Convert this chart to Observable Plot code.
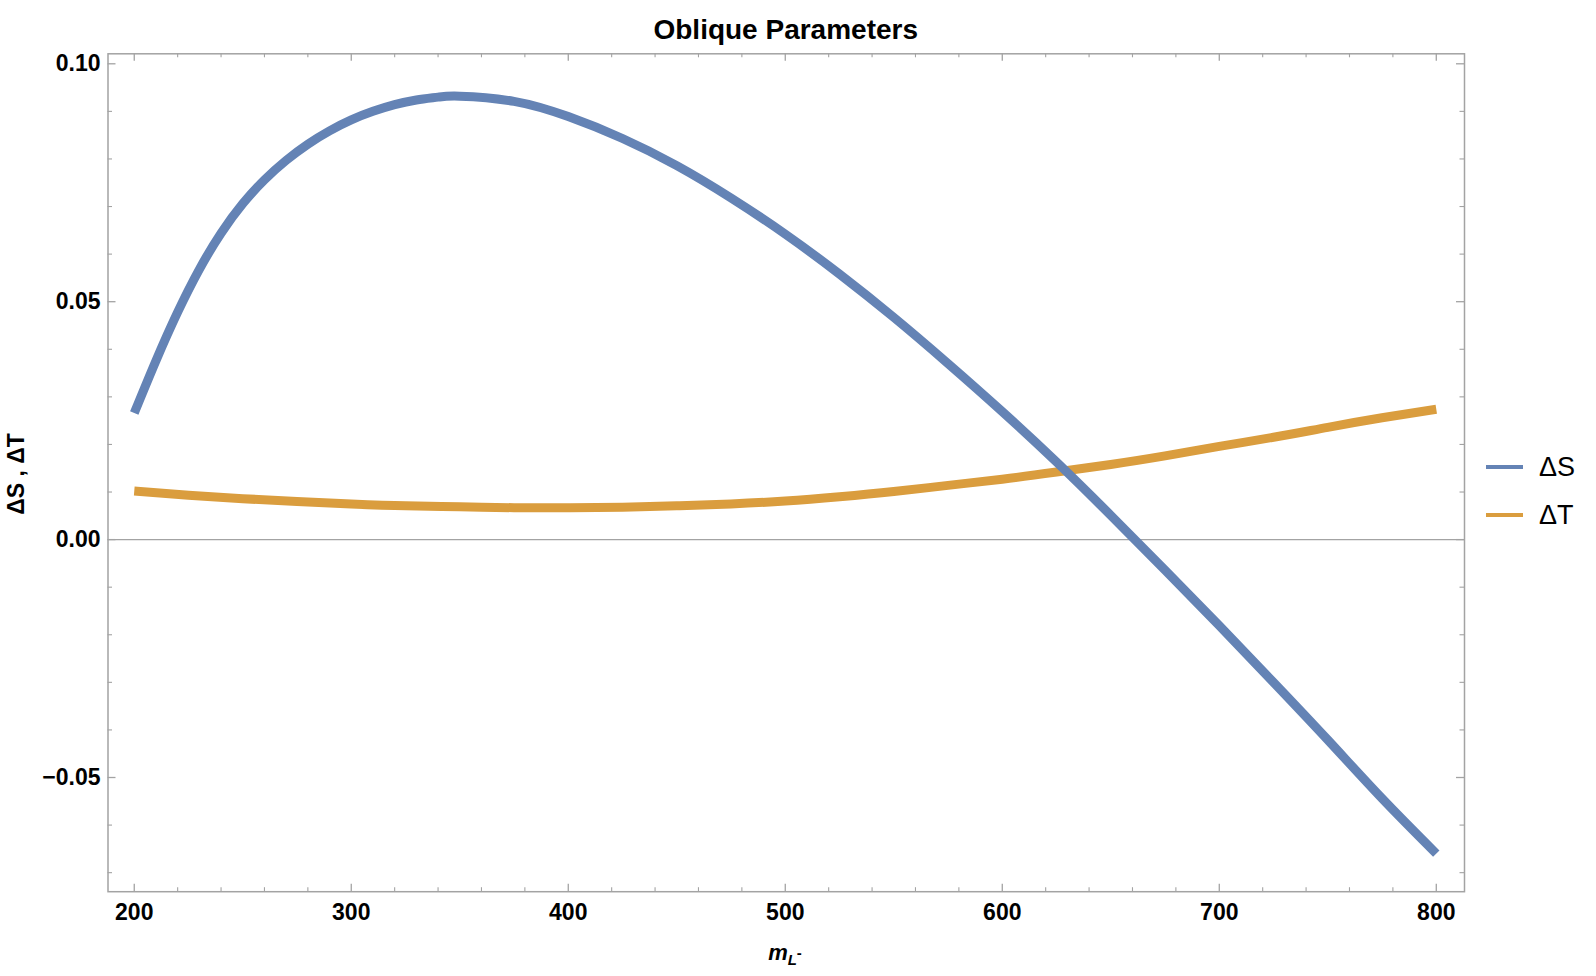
<!DOCTYPE html>
<html>
<head>
<meta charset="utf-8">
<script src="https://cdn.jsdelivr.net/npm/d3@7"></script>
<script src="https://cdn.jsdelivr.net/npm/@observablehq/plot@0.6"></script>
<style>
  body { margin: 0; background: #fff; font-family: "Liberation Sans", Arial, Helvetica, sans-serif; }
  #wrap { position: relative; width: 1596px; height: 976px; overflow: hidden; }
  #title { position: absolute; left: 785.75px; top: 16px; transform: translateX(-50%); font-size: 28px; line-height: 28px; font-weight: bold; white-space: nowrap; color: #000; }
  #ylab { position: absolute; left: 16px; top: 474px; transform: translate(-50%, -50%) rotate(-90deg); font-size: 23px; line-height: 23px; font-weight: bold; white-space: nowrap; color: #000; }
  #xlab { position: absolute; left: 785px; top: 942px; transform: translateX(-50%); font-size: 22px; line-height: 22px; font-weight: bold; font-style: italic; white-space: nowrap; color: #000; }
  #xlab .sub { font-size: 15px; line-height: 0; position: relative; top: 5px; }
  #xlab .sup { font-size: 15px; line-height: 0; position: relative; top: -7px; font-style: normal; }
  .leg { position: absolute; left: 1486px; height: 28px; display: flex; align-items: center; font-size: 27px; line-height: 28px; white-space: nowrap; color: #000; }
  .leg .sw { width: 37px; height: 4px; margin-right: 16px; }
</style>
</head>
<body>
<div id="wrap">
  <div id="chart"></div>
  <div id="title">Oblique Parameters</div>
  <div id="ylab">ΔS , ΔT</div>
  <div id="xlab">m<span class="sub">L<span class="sup">-</span></span></div>
  <div id="legend"></div>
</div>
<script>
// ---- data ----
const massS = [200, 210, 220, 230, 240, 250, 260, 270, 280, 290, 300, 310, 320, 330, 340, 350, 375, 400, 425, 450, 475, 500, 525, 550, 575, 600, 625, 650, 675, 700, 725, 750, 775, 800];
const deltaS = [0.0266, 0.0376, 0.0478, 0.0568, 0.0644, 0.0706, 0.0756, 0.0797, 0.0831, 0.0859, 0.0882, 0.0900, 0.0914, 0.0924, 0.0930, 0.0932, 0.0921, 0.0889, 0.0843, 0.0786, 0.0718, 0.0642, 0.0558, 0.0467, 0.0370, 0.0269, 0.0163, 0.0051, -0.0064, -0.0181, -0.0300, -0.0421, -0.0544, -0.0660];
const massT = [200, 225, 250, 275, 300, 325, 350, 375, 400, 425, 450, 475, 500, 525, 550, 575, 600, 625, 650, 675, 700, 725, 750, 775, 800];
const deltaT = [0.0102, 0.0093, 0.0086, 0.0080, 0.0075, 0.0071, 0.0069, 0.0067, 0.0067, 0.0068, 0.0071, 0.0075, 0.0081, 0.0090, 0.0101, 0.0114, 0.0127, 0.0142, 0.0158, 0.0176, 0.0196, 0.0215, 0.0236, 0.0256, 0.0274];
const seriesNames = ["ΔS", "ΔT"];
const seriesColors = ["#6483b5", "#da9d3e"];
const xTickValues = [200, 300, 400, 500, 600, 700, 800];
const yTickValues = [-0.05, 0.00, 0.05, 0.10];
const xMinorValues = d3.range(200, 801, 20).filter(v => v % 100 !== 0);
const yMinorValues = d3.range(-7, 11).map(v => v / 100).filter(v => Math.round(v * 100) % 5 !== 0);

// ---- layout ----
const W = 1596, H = 976;
const mL = 107.5, mR = 132, mT = 53.3, mB = 84.8;
const plotW = W - mL - mR, plotH = H - mT - mB;
const frameColor = "#a3a3a3";

const sData = massS.map((m, i) => ({m, v: deltaS[i], s: seriesNames[0]}));
const tData = massT.map((m, i) => ({m, v: deltaT[i], s: seriesNames[1]}));

const chart = Plot.plot({
  width: W,
  height: H,
  marginLeft: mL,
  marginRight: mR,
  marginTop: mT,
  marginBottom: mB,
  style: {fontFamily: "'Liberation Sans', Arial, Helvetica, sans-serif", fontWeight: "bold", color: "#000", background: "#fff", overflow: "visible"},
  x: {domain: [187.9, 813.0]},
  y: {domain: [-0.0740, 0.1021]},
  color: {domain: seriesNames, range: seriesColors},
  marks: [
    Plot.ruleY([0], {stroke: frameColor, strokeWidth: 1.3}),
    // inward ticks, bottom and top
    Plot.tickX(xTickValues, {x: d => d, stroke: frameColor, strokeWidth: 1.3, insetTop: plotH - 7.5}),
    Plot.tickX(xMinorValues, {x: d => d, stroke: frameColor, strokeWidth: 1.1, insetTop: plotH - 4}),
    Plot.tickX(xTickValues, {x: d => d, stroke: frameColor, strokeWidth: 1.3, insetBottom: plotH - 7.5}),
    Plot.tickX(xMinorValues, {x: d => d, stroke: frameColor, strokeWidth: 1.1, insetBottom: plotH - 4}),
    // inward ticks, left and right
    Plot.tickY(yTickValues, {y: d => d, stroke: frameColor, strokeWidth: 1.3, insetRight: plotW - 8}),
    Plot.tickY(yMinorValues, {y: d => d, stroke: frameColor, strokeWidth: 1.1, insetRight: plotW - 4.5}),
    Plot.tickY(yTickValues, {y: d => d, stroke: frameColor, strokeWidth: 1.3, insetLeft: plotW - 8}),
    Plot.tickY(yMinorValues, {y: d => d, stroke: frameColor, strokeWidth: 1.1, insetLeft: plotW - 4.5}),
    Plot.line(tData, {x: "m", y: "v", stroke: "s", strokeWidth: 9, curve: "natural", strokeLinecap: "butt"}),
    Plot.line(sData, {x: "m", y: "v", stroke: "s", strokeWidth: 9, curve: "natural", strokeLinecap: "butt"}),
    Plot.frame({stroke: frameColor, strokeWidth: 1.5}),
    Plot.axisX({ticks: xTickValues, tickSize: 0, tickPadding: 12, fontSize: 23, fontWeight: "bold", label: null, tickFormat: d3.format("d")}),
    Plot.axisY({ticks: yTickValues, tickSize: 0, tickPadding: 7.5, fontSize: 23, fontWeight: "bold", label: null, tickFormat: d3.format(".2f")})
  ]
});
document.getElementById("chart").appendChild(chart);

// ---- legend ----
const legend = document.getElementById("legend");
const legendTops = [453, 501];
seriesNames.forEach((name, i) => {
  const row = document.createElement("div");
  row.className = "leg";
  row.style.top = legendTops[i] + "px";
  const sw = document.createElement("span");
  sw.className = "sw";
  sw.style.background = seriesColors[i];
  const tx = document.createElement("span");
  tx.textContent = name;
  row.appendChild(sw);
  row.appendChild(tx);
  legend.appendChild(row);
});
</script>
</body>
</html>
